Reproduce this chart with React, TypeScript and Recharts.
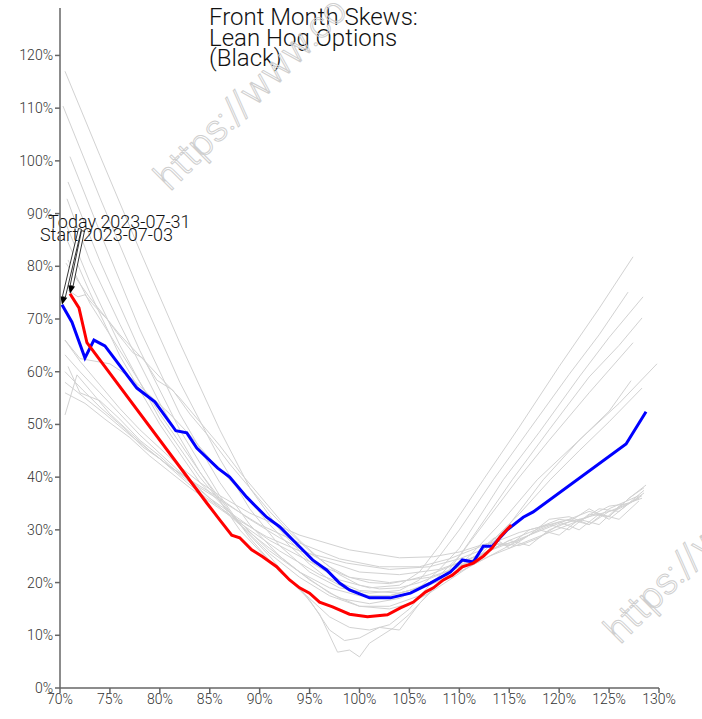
import React from 'react';
import { LineChart, Line, XAxis, YAxis, ReferenceLine } from 'recharts';

// moneyness (% of ATM) and implied vol (%) pairs
const moneynessTicks = [70, 75, 80, 85, 90, 95, 100, 105, 110, 115, 120, 125, 130];
const volTicks = [0, 10, 20, 30, 40, 50, 60, 70, 80, 90, 100, 110, 120];

const todaySkew = [
  [70.2, 72.7], [71.2, 69.4], [72.5, 62.6], [73.4, 66.0], [74.5, 64.9], [77.7, 56.9], [79.5, 54.3],
  [81.6, 48.8], [82.7, 48.4], [83.7, 45.5], [85.8, 41.7], [87.0, 40.0], [88.7, 36.2], [90.7, 32.4],
  [92.0, 30.6], [94.0, 26.8], [95.3, 24.3], [96.7, 22.4], [98.0, 19.9], [99.0, 18.6], [101.0, 17.1],
  [103.1, 17.1], [105.1, 18.0], [107.1, 19.9], [109.1, 22.0], [110.3, 24.3], [111.4, 23.9], [112.4, 26.9],
  [113.3, 26.9], [114.8, 30.0], [116.4, 32.4], [117.4, 33.4], [126.7, 46.3], [128.7, 52.4],
];

const startSkew = [
  [71.0, 74.8], [71.9, 72.1], [72.7, 65.5], [84.7, 35.1], [86.0, 31.9], [87.2, 29.0], [88.0, 28.5],
  [89.2, 26.2], [90.3, 24.9], [91.7, 23.0], [93.0, 20.5], [94.0, 19.0], [95.0, 18.0], [96.0, 16.3],
  [97.3, 15.4], [99.0, 14.0], [100.8, 13.5], [102.8, 13.9], [104.1, 15.2], [105.4, 16.3], [106.6, 18.2],
  [107.4, 19.0], [108.4, 20.5], [109.3, 21.4], [110.3, 23.0], [111.4, 23.7], [112.4, 25.0], [113.3, 26.6],
  [114.1, 28.7], [115.2, 30.9],
];

// earlier days in the window (grey)
const steep1 = [[70.5, 117], [74, 101], [78, 83], [82, 65.5], [86, 49], [89, 38], [92, 30], [95, 24], [98, 20.5], [101, 19], [104, 19.5], [106, 22], [108, 27], [110, 32.7], [112.4, 39.5], [116, 49.5], [120, 61], [124, 72], [127.4, 81.8]];
const steep2 = [[70.3, 110.4], [74, 93], [78, 75], [82, 58], [86, 43.5], [89, 34], [92, 27], [95, 22], [98, 19], [101, 18], [104, 18.5], [106, 20.5], [108, 25], [110, 30], [113.4, 39.5], [117, 49], [121, 59.5], [124, 67], [126.9, 75.1]];
const steep3 = [[71, 100.8], [74, 86.5], [78, 68], [82, 52], [86, 39], [89, 31], [92, 25], [95, 20.5], [98, 17], [101, 16], [104, 17], [106, 19], [108, 22.5], [110, 26.5], [114.4, 39.5], [118, 48.5], [122, 59], [125, 66.5], [128.4, 74.2]];
const steep4 = [[70.8, 96], [74, 81], [78, 64], [82, 49], [86, 36.5], [89, 28.5], [92, 22], [95, 17], [97, 13.5], [99, 11.5], [101, 11], [103, 12], [105, 15], [107, 19.5], [110, 25], [115.3, 39.5], [119, 49], [123, 59], [126, 65], [128.3, 70.2]];
const steep5 = [[70.7, 92.8], [73, 81], [76, 69], [80, 54], [84, 41], [88, 30], [91, 24], [94, 19], [96, 14], [97.8, 6.8], [99, 7.2], [100, 5.9], [101, 8.5], [103.4, 11.4], [105, 14], [107, 18], [109, 22.5], [112, 30], [115.8, 39.5], [119, 47], [123, 56], [127.4, 65.5]];
const steep6 = [[70.8, 81.2], [73, 73], [76, 64], [80, 52], [84, 41], [88, 31], [91, 25], [93, 20.5], [95, 16.7], [97, 11], [98.5, 9], [100, 9.5], [102, 11.5], [104, 11], [106, 16], [108, 20], [111, 25], [114, 31], [117.8, 39.5], [122, 47], [126, 54], [129.8, 61.5]];
const steep7 = [[70.6, 88], [73, 77], [76, 65], [80, 51], [84, 40], [88, 31], [91, 25.5], [94, 21], [97, 17.5], [100, 15.5], [103, 15.5], [106, 17.5], [109, 21], [112, 25], [115, 31], [118.4, 39.5], [122, 47], [125, 52.5], [127.2, 58.3]];
const steep8 = [[70.7, 85], [73, 75], [76, 63], [80, 50], [84, 39], [88, 31.5], [91, 26], [94, 22], [97, 19], [100, 17.5], [103, 17.5], [106, 19], [109, 22], [112, 25.5], [116, 33], [119.1, 39.5], [122, 45], [125, 50.5], [128.3, 56.9]];

const flat1 = [[70.5, 66], [72, 62], [74, 57.5], [76, 53], [78, 49], [80, 45.5], [82, 42], [84, 39], [86, 36.5], [89, 33.2], [94, 29], [99, 26.2], [104, 24.7], [107.4, 24.9], [110, 25.8], [112, 27], [114, 28], [116, 29.5], [118, 30.5], [120, 32], [122, 31.5], [124, 34], [126, 33.5], [128.5, 37.5]];
const flat2 = [[70.5, 63.2], [72, 60], [74, 56], [76, 52], [78, 48], [80, 44.5], [82, 41], [84, 38], [87, 34.5], [90, 31], [94, 27.5], [98, 24.5], [102, 23], [106, 23], [109, 24.5], [111, 26], [113, 27.5], [115, 27], [117, 30], [119, 31], [121, 30], [123, 33], [125, 32.5], [127, 36], [128.7, 38.5]];
const flat3 = [[70.5, 60], [72.3, 56.5], [74, 53.3], [76.3, 49.5], [78.3, 45.7], [80, 43.5], [82.7, 39], [84, 37], [87.3, 32.5], [90.7, 28.7], [94, 26], [98.7, 23.7], [103, 22.5], [107, 23], [110, 24.5], [112, 26], [113.5, 28.5], [115, 26.5], [117, 29], [119, 32], [121, 32.5], [123, 31], [125, 34], [128, 36.5]];
const flat4 = [[70.5, 51.8], [71.7, 59.4], [73, 56.5], [75, 52], [77, 48.5], [79, 45], [81, 42], [83, 39.5], [86, 36], [89, 32], [92, 28.5], [96, 24.5], [100, 22], [104, 21.5], [108, 22.5], [111, 24.5], [113, 26], [115, 28], [117, 27], [119, 30], [121, 31.5], [123, 34], [125, 32], [127, 35], [128.5, 37]];
const flat5 = [[70.5, 58], [72.5, 55], [74.5, 52], [77, 48], [79, 45], [81, 42], [83, 39.5], [85, 36], [88, 32], [91, 28], [95, 24], [99, 21], [103, 20], [107, 21], [110, 23], [112, 25], [114, 27.5], [116, 27], [118, 28.5], [120, 31], [122, 32], [124, 31], [126, 34.5], [128.3, 36]];
const flat6 = [[70.5, 56], [72.5, 54], [74.5, 51], [77, 47.5], [79, 44], [81, 41], [83, 38], [86, 34], [89, 30], [92, 26], [96, 21.5], [100, 18.5], [104, 18], [107, 19.5], [110, 22], [112, 24], [114, 26], [116, 28], [118, 30], [120, 29], [122, 32], [124, 33], [126, 32], [128, 35.5]];
const flat7 = [[70.8, 61], [72, 56], [74, 54.5], [76, 51], [78, 47], [80, 44], [82, 40.5], [85, 36], [88, 31], [91, 26.5], [94, 22], [97, 18], [100, 15.5], [103, 15], [105, 16], [107, 18], [109, 20.5], [111, 23], [113, 25], [115, 26.5], [117, 28], [119, 29.5], [121, 31], [123, 32.5], [125, 34.5], [127, 35]];

const mid1 = [[70.8, 75.5], [71.8, 74.2], [72.5, 74.6], [73.2, 73], [74.8, 69.8], [75.7, 67.4], [77.3, 63.6], [78.3, 62.6], [79.7, 58.4], [81.3, 56.5], [83, 52], [85, 47.5], [87, 42.5], [89, 38], [91, 33.5], [93, 29.5], [95, 26], [97, 23], [99, 21], [101, 20], [103, 19.8], [105, 20.5], [107, 21.5], [109, 23], [111, 24.5], [113, 26], [115, 27.5], [117, 29], [119, 30.5], [121, 32], [123, 31], [125, 33.5], [127, 35], [128.3, 36.5]];
const mid2 = [[70.6, 80.6], [71.5, 78], [73, 74], [74.5, 70.5], [76, 67], [78, 63], [80, 59], [82, 55], [84, 50.5], [86, 46], [88, 41], [90, 36.5], [92, 32], [94, 28], [96, 24.5], [98, 21.5], [100, 19.5], [102, 18.8], [104, 19], [106, 20], [108, 21.5], [110, 23], [112, 25], [114, 27], [116, 28], [118, 30], [120, 31.5], [122, 30], [124, 33], [126, 34], [128, 36]];
const mid3 = [[70.5, 66], [72, 62.5], [73.5, 62], [75, 61.5], [77, 59], [79, 55.5], [81, 52], [83, 48], [85, 43.5], [87, 39.5], [89, 35.5], [91, 31], [93, 27], [95, 23.5], [97, 20.5], [99, 18.5], [101, 17.5], [103, 17.5], [105, 18.5], [107, 20], [109, 22], [111, 24], [113, 26], [115, 28], [117, 29.5], [119, 31], [121, 32], [123, 33.5], [125, 32.5], [127, 36], [128.5, 38]];

const pastSkews = [steep1, steep2, steep3, steep4, steep5, steep6, steep7, steep8, flat1, flat2, flat3, flat4, flat5, flat6, flat7, mid1, mid2, mid3];

const toPoints = (arr: number[][]) => arr.map(([k, v]) => ({ k, v }));

const FONT = 'Roboto, "Noto Sans", sans-serif';

// hollow shaft + filled head, label text next to the tail
const makeArrow = (label: string, dx: number, dy: number) => (props: any) => {
  const { x1, y1, x2, y2 } = props;
  const len = Math.hypot(x2 - x1, y2 - y1) || 1;
  const ux = (x2 - x1) / len;
  const uy = (y2 - y1) / len;
  const px = -uy;
  const py = ux;
  const head = 8;
  const bx = x2 - ux * head;
  const by = y2 - uy * head;
  const w = 1.5;
  const hw = 3.5;
  return (
    <g>
      <polygon
        points={`${x1 + px * w},${y1 + py * w} ${bx + px * w},${by + py * w} ${bx - px * w},${by - py * w} ${x1 - px * w},${y1 - py * w}`}
        fill="#fff"
        stroke="#000"
        strokeWidth={0.8}
      />
      <polygon points={`${x2},${y2} ${bx + px * hw},${by + py * hw} ${bx - px * hw},${by - py * hw}`} fill="#000" />
      <text x={x1 + dx} y={y1 + dy} fontFamily={FONT} fontWeight={300} fontSize={18} fill="#111">
        {label}
      </text>
    </g>
  );
};

const tickStyle = { fontFamily: FONT, fontSize: 14, fontWeight: 300, fill: '#333' };

const App = () => {
  const today = toPoints(todaySkew);
  const start = toPoints(startSkew);

  return (
    <div style={{ position: 'absolute', left: 0, top: 0, width: 702, height: 719, background: '#fff' }}>
      <LineChart width={702} height={719} margin={{ top: 8, right: 43, bottom: 0, left: 0 }}>
        <XAxis
          type="number"
          dataKey="k"
          domain={[70, 130]}
          ticks={moneynessTicks}
          tickFormatter={(v) => `${v}%`}
          allowDataOverflow
          height={31}
          stroke="#666"
          strokeWidth={1.5}
          tick={tickStyle}
          tickSize={5}
          tickMargin={1}
        />
        <YAxis
          type="number"
          dataKey="v"
          domain={[0, 129]}
          ticks={volTicks}
          tickFormatter={(v) => `${v}%`}
          allowDataOverflow
          width={60}
          stroke="#666"
          strokeWidth={1.5}
          tick={tickStyle}
          tickSize={5}
          tickMargin={2}
        />
        {pastSkews.map((s, i) => (
          <Line
            key={`past-${i}`}
            data={toPoints(s)}
            dataKey="v"
            type="linear"
            stroke="#d2d2d2"
            strokeWidth={1}
            dot={false}
            activeDot={false}
            isAnimationActive={false}
          />
        ))}
        <Line data={today} dataKey="v" type="linear" stroke="#0000ff" strokeWidth={3} dot={false} isAnimationActive={false} />
        <Line data={start} dataKey="v" type="linear" stroke="#ff0000" strokeWidth={3} dot={false} isAnimationActive={false} />
        <ReferenceLine
          segment={[{ x: 72.0, y: 87.1 }, { x: todaySkew[0][0], y: todaySkew[0][1] }]}
          ifOverflow="visible"
          shape={makeArrow('Today 2023-07-31', -32, -1)}
        />
        <ReferenceLine
          segment={[{ x: 72.3, y: 86.7 }, { x: startSkew[0][0], y: startSkew[0][1] }]}
          ifOverflow="visible"
          shape={makeArrow('Start 2023-07-03', -43, 10)}
        />
      </LineChart>
      <svg width={702} height={719} style={{ position: 'absolute', left: 0, top: 0, pointerEvents: 'none', overflow: 'hidden' }}>
        <text fontFamily={FONT} fontWeight={300} fontSize={24} fill="#111">
          <tspan x={209} y={25}>Front Month Skews:</tspan>
          <tspan x={209} y={45.5}>Lean Hog Options</tspan>
          <tspan x={209} y={66}>(Black)</tspan>
        </text>
        <text x={170} y={192} transform="rotate(-45 170 192)" fontFamily={FONT} fontWeight={300} fontSize={38} fill="none" stroke="#cfcfcf" strokeWidth={1}>
          https://www.co
        </text>
        <text x={620} y={645} transform="rotate(-45 620 645)" fontFamily={FONT} fontWeight={300} fontSize={38} fill="none" stroke="#cfcfcf" strokeWidth={1}>
          https://www.co
        </text>
      </svg>
    </div>
  );
};

export default App;
